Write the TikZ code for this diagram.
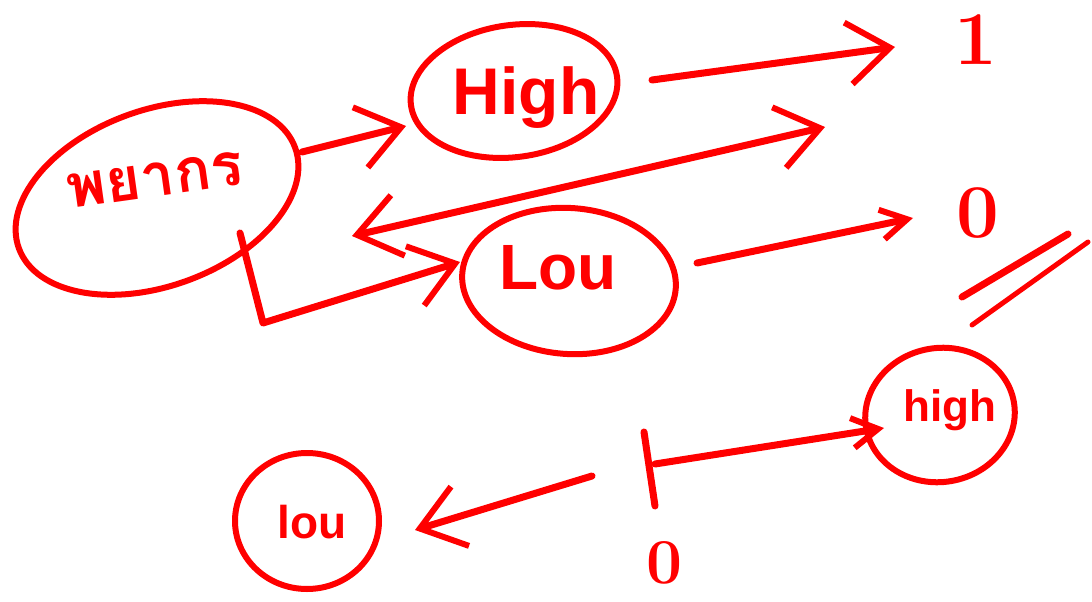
\documentclass[tikz,border=0pt]{standalone}
\usepackage{fontspec}
\newfontfamily\hand{Liberation Sans}
\newfontfamily\thaifont[Script=Thai]{Loma}
\usetikzlibrary{shapes.geometric,arrows.meta}
\definecolor{ink}{RGB}{255,0,0}
\begin{document}
\begin{tikzpicture}[x=1pt,y=-1pt,line cap=round,line join=round,
  blob/.style={draw=ink,line width=6pt,ellipse,inner sep=0pt},
  inkline/.style={draw=ink,line width=7pt},
  bigtip/.style={-{Straight Barb[length=42pt,width=62pt,line width=6pt]}},
  bothtip/.style={{Straight Barb[length=42pt,width=62pt,line width=6pt]}-{Straight Barb[length=42pt,width=62pt,line width=6pt]}},
  smalltip/.style={-{Straight Barb[length=26pt,width=30pt,line width=6pt]}},
  lbl/.style={text=ink,inner sep=0pt},
]
\useasboundingbox (0,0) rectangle (1092,602);

% ellipses
\node[blob,minimum width=294pt,minimum height=176pt,rotate=20] (src) at (157,198) {};
\node[lbl,rotate=8,font=\thaifont\bfseries\fontsize{60}{60}\selectfont] (srct) at (155,180) {พยากร};

\node[blob,minimum width=208pt,minimum height=132pt,rotate=8] (high) at (514,91) {};
\node[lbl,font=\hand\bfseries\fontsize{66}{66}\selectfont] (hight) at (526,98) {High};

\node[blob,minimum width=214pt,minimum height=146pt,rotate=-4] (low) at (569,281) {};
\node[lbl,font=\hand\bfseries\fontsize{64}{64}\selectfont] (lowt) at (558,268) {Lou};

\node[blob,minimum width=150pt,minimum height=134pt,rotate=10] (hi2) at (940,415) {};
\node[lbl,font=\hand\bfseries\fontsize{44}{44}\selectfont] (hi2t) at (950,410) {high};

\node[blob,minimum width=144pt,minimum height=136pt] (lo2) at (307,521) {};
\node[lbl,font=\hand\bfseries\fontsize{46}{46}\selectfont] (lo2t) at (312,522) {lou};

% value labels
\node[lbl,font=\bfseries\fontsize{76}{76}\selectfont] (one) at (976,40) {1};
\node[lbl,font=\bfseries\fontsize{76}{76}\selectfont] (zero) at (978,213) {0};
\node[lbl,font=\bfseries\fontsize{64}{64}\selectfont] (zero2) at (665,563) {0};

% connector end points
\coordinate (srcA) at (302,152);
\coordinate (highA) at (406,126);
\coordinate (highB) at (652,80);
\coordinate (oneA) at (895,47);
\coordinate (longR) at (825,127);
\coordinate (longL) at (352,236);
\coordinate (srcB) at (240,233);
\coordinate (bend) at (263,323);
\coordinate (lowA) at (460,262);
\coordinate (lowB) at (697,263);
\coordinate (zeroA) at (913,218);
\coordinate (tickT) at (644,432);
\coordinate (tickB) at (655,506);
\coordinate (tickM) at (655,464);
\coordinate (hi2A) at (884,428);
\coordinate (lo2S) at (592,476);
\coordinate (lo2A) at (415,530);
\coordinate (s1a) at (962,297);
\coordinate (s1b) at (1068,234);
\coordinate (s2a) at (972,325);
\coordinate (s2b) at (1088,242);

% connectors
\draw[inkline,bigtip] (srcA) -- (highA);
\draw[inkline,bigtip] (highB) -- (oneA);
\draw[inkline,bothtip] (longR) -- (longL);
\draw[inkline,bigtip] (srcB) -- (bend) -- (lowA);
\draw[inkline,smalltip] (lowB) -- (zeroA);
\draw[inkline] (tickT) -- (tickB);
\draw[inkline,smalltip] (tickM) -- (hi2A);
\draw[inkline,bigtip] (lo2S) -- (lo2A);
\draw[inkline] (s1a) -- (s1b);
\draw[draw=ink,line width=5pt] (s2a) -- (s2b);
\end{tikzpicture}
\end{document}
